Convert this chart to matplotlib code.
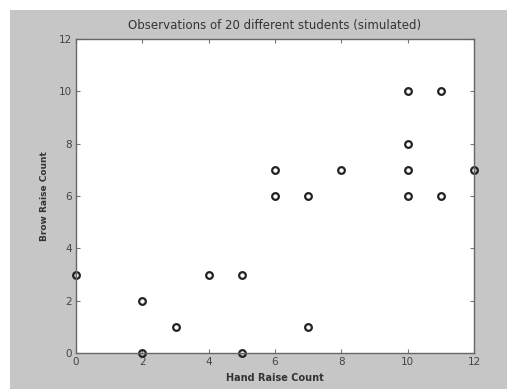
import matplotlib
matplotlib.use("Agg")
import matplotlib.pyplot as plt
from matplotlib.patches import Rectangle

# hand raises vs brow raises, one point per student
hand_raises = [0, 2, 2, 3, 4, 5, 5, 6, 6, 7, 7, 8, 10, 10, 10, 10, 11, 11, 12]
brow_raises = [3, 2, 0, 1, 3, 3, 0, 7, 6, 6, 1, 7, 10, 8, 7, 6, 10, 6, 7]
ticks = [0, 2, 4, 6, 8, 10, 12]

W, H = 507, 389
fig = plt.figure(figsize=(W / 100, H / 100), dpi=100, facecolor="white")
# matlab-style grey figure panel (screenshot has a thin white margin top/left)
fig.patches.append(Rectangle((10 / W, 0), 1, 1 - 10 / H, transform=fig.transFigure,
                             facecolor="#c6c6c6", edgecolor="none", zorder=-1))

ax = fig.add_axes([76 / W, 1 - 353 / H, (474 - 76) / W, (353 - 39) / H])
ax.set_facecolor("white")
ax.plot(hand_raises, brow_raises, "o", mfc="none", mec="#222222", ms=4.8, mew=1.6, clip_on=False)

ax.set_xlim(0, 12); ax.set_ylim(0, 12)
ax.set_xticks(ticks); ax.set_yticks(ticks)
ax.tick_params(direction="in", top=True, right=True, length=3, width=0.8,
               color="#777777", labelcolor="#444444", labelsize=7.5, pad=3)
for s in ax.spines.values():
    s.set_color("#666666"); s.set_linewidth(1.0)

ax.set_title("Observations of 20 different students (simulated)", fontsize=8.5, color="#333333", pad=7)
ax.set_xlabel("Hand Raise Count", fontsize=7, fontweight="bold", color="#333333", labelpad=4)
ax.set_ylabel("Brow Raise Count", fontsize=6.5, fontweight="bold", color="#333333", labelpad=7)

fig.savefig("out.png", dpi=100)
